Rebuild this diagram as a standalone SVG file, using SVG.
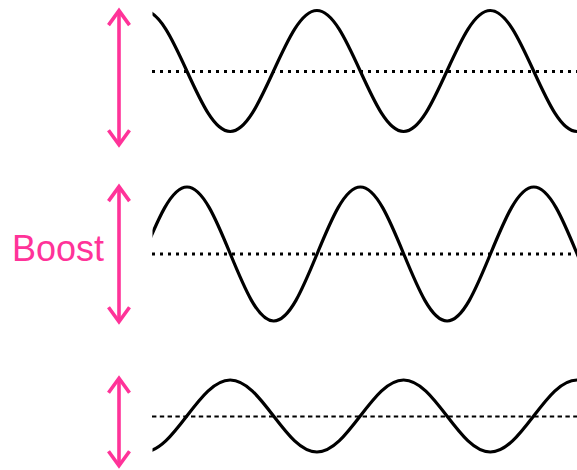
<svg xmlns="http://www.w3.org/2000/svg" width="577" height="470" viewBox="0 0 577 470">
<style>
.wave{fill:none;stroke:#000;stroke-width:3.2;stroke-linejoin:round}
.dots{fill:none;stroke:#000;stroke-width:3;stroke-dasharray:3 5}
.dash{fill:none;stroke:#000;stroke-width:2;stroke-dasharray:4.4 3.4}
.arr{fill:none;stroke:#ff3399;stroke-width:3.6;marker-start:url(#ah);marker-end:url(#ah)}
.lbl{font-family:"Liberation Sans",Arial,sans-serif;font-size:36px;fill:#ff3399}
</style>
<defs>
<clipPath id="cp"><rect x="152.5" y="0" width="430" height="470"/></clipPath>
<marker id="ah" viewBox="-20 -15 25 30" refX="0" refY="0" markerWidth="25" markerHeight="30" markerUnits="userSpaceOnUse" orient="auto-start-reverse" overflow="visible">
<path d="M-14.5,-10.5 L0,0 L-14.5,10.5" fill="none" stroke="#ff3399" stroke-width="3.6" stroke-linejoin="miter"/>
</marker>
</defs>
<g id="wave1">
<line class="dots" x1="152" y1="71.5" x2="577" y2="71.5"/>
<path class="wave" clip-path="url(#cp)" d="M143.5,10.5
c15.69,0 29.21,29.51 43.35,60.5 c14.14,30.99 27.66,60.5 43.35,60.5
c15.69,0 29.21,-29.51 43.35,-60.5 c14.14,-30.99 27.66,-60.5 43.35,-60.5
c15.69,0 29.21,29.51 43.35,60.5 c14.14,30.99 27.66,60.5 43.35,60.5
c15.69,0 29.21,-29.51 43.35,-60.5 c14.14,-30.99 27.66,-60.5 43.35,-60.5
c15.69,0 29.21,29.51 43.35,60.5 c14.14,30.99 27.66,60.5 43.35,60.5"/>
</g>
<g id="wave2">
<line class="dots" x1="152" y1="254" x2="577" y2="254"/>
<path class="wave" clip-path="url(#cp)" d="M100.3,321
c15.69,0 29.21,-32.7 43.35,-67 c14.14,-34.3 27.66,-67 43.35,-67
c15.69,0 29.21,32.7 43.35,67 c14.14,34.3 27.66,67 43.35,67
c15.69,0 29.21,-32.7 43.35,-67 c14.14,-34.3 27.66,-67 43.35,-67
c15.69,0 29.21,32.7 43.35,67 c14.14,34.3 27.66,67 43.35,67
c15.69,0 29.21,-32.7 43.35,-67 c14.14,-34.3 27.66,-67 43.35,-67
c15.69,0 29.21,32.7 43.35,67 c14.14,34.3 27.66,67 43.35,67"/>
</g>
<g id="wave3">
<line class="dash" x1="152" y1="416.5" x2="577" y2="416.5"/>
<path class="wave" clip-path="url(#cp)" d="M143.5,452
c15.69,0 29.21,-17.56 43.35,-36 c14.14,-18.44 27.66,-36 43.35,-36
c15.69,0 29.21,17.56 43.35,36 c14.14,18.44 27.66,36 43.35,36
c15.69,0 29.21,-17.56 43.35,-36 c14.14,-18.44 27.66,-36 43.35,-36
c15.69,0 29.21,17.56 43.35,36 c14.14,18.44 27.66,36 43.35,36
c15.69,0 29.21,-17.56 43.35,-36 c14.14,-18.44 27.66,-36 43.35,-36"/>
</g>
<g id="arrows">
<line class="arr" x1="119" y1="10.6" x2="119" y2="144.7"/>
<line class="arr" x1="119" y1="186.6" x2="119" y2="321.7"/>
<line class="arr" x1="119" y1="378.3" x2="119" y2="465.7"/>
</g>
<g id="label">
<text class="lbl" x="12" y="261">Boost</text>
</g>
</svg>
